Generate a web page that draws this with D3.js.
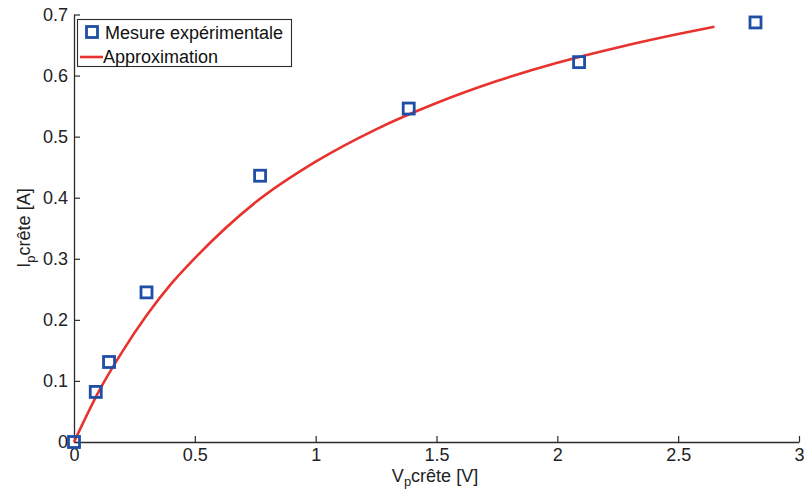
<!DOCTYPE html>
<html><head><meta charset="utf-8">
<script src="https://cdn.jsdelivr.net/npm/d3@7"></script>
<style>body{margin:0;background:#fff}svg{display:block}text{font-family:"Liberation Sans",Arial,sans-serif}</style>
</head><body>
<svg id="c" width="805" height="491"></svg>
<script>
const measV = [0, 0.09, 0.145, 0.30, 0.77, 1.385, 2.09, 2.82];
const measI = [0, 0.082, 0.131, 0.245, 0.436, 0.546, 0.622, 0.687];
const approxV = [0, 0.1, 0.2, 0.3, 0.4, 0.5, 0.75, 1.0, 1.25, 1.5, 1.75, 2.0, 2.25, 2.5, 2.65];
const approxI = [0, 0.081, 0.148, 0.207, 0.258, 0.301, 0.392, 0.459, 0.512, 0.555, 0.591, 0.621, 0.646, 0.668, 0.680];
const xTicks = [0, 0.5, 1, 1.5, 2, 2.5, 3];
const yTicks = [0, 0.1, 0.2, 0.3, 0.4, 0.5, 0.6, 0.7];
const legendLabels = ["Mesure expérimentale", "Approximation"];

const svg = d3.select("#c");
const m = {l: 74, r: 6, t: 14.5, b: 49};
const W = 805, H = 491;
const x = d3.scaleLinear().domain([0, 3]).range([m.l, W - m.r]);
const y = d3.scaleLinear().domain([0, 0.7]).range([H - m.b, m.t]);
const axisCol = "#2b2b2b", blue = "#1f4ea6", red = "#e8322e";

const xa = svg.append("g").attr("transform", `translate(0,${y(0)})`)
  .call(d3.axisBottom(x).tickValues(xTicks).tickSizeInner(-6).tickSizeOuter(0).tickPadding(9).tickFormat(d3.format("")));
const ya = svg.append("g").attr("transform", `translate(${x(0)},0)`)
  .call(d3.axisLeft(y).tickValues(yTicks).tickSizeInner(-6).tickSizeOuter(0).tickPadding(9).tickFormat(d3.format("")));
[xa, ya].forEach(a => {
  a.selectAll("path.domain").attr("stroke", axisCol).attr("stroke-width", 1.3);
  a.selectAll(".tick line").attr("stroke", axisCol).attr("stroke-width", 1.2);
  a.selectAll("text").attr("font-size", 18).attr("fill", "#222").attr("font-family", "Liberation Sans, Arial, sans-serif");
});
xa.selectAll("text").attr("dy", "0.71em").attr("y", 6);
ya.selectAll("text").attr("x", -6);

// approximation line
const pts = approxV.map((v, i) => [v, approxI[i]]);
svg.append("path").datum(pts)
  .attr("d", d3.line().x(d => x(d[0])).y(d => y(d[1])).curve(d3.curveMonotoneX))
  .attr("fill", "none").attr("stroke", red).attr("stroke-width", 2.6);

// measured points
const s = 11;
svg.selectAll("rect.meas").data(measV.map((v, i) => [v, measI[i]])).enter().append("rect")
  .attr("class", "meas")
  .attr("x", d => x(d[0]) - s / 2).attr("y", d => y(d[1]) - s / 2)
  .attr("width", s).attr("height", s)
  .attr("fill", "none").attr("stroke", blue).attr("stroke-width", 2.8);

// legend
const lg = svg.append("g");
lg.append("rect").attr("x", 77.5).attr("y", 19.5).attr("width", 214).attr("height", 47)
  .attr("fill", "#fff").attr("stroke", axisCol).attr("stroke-width", 1.1);
lg.append("rect").attr("x", 86.5).attr("y", 26.5).attr("width", s).attr("height", s)
  .attr("fill", "none").attr("stroke", blue).attr("stroke-width", 2.8);
lg.append("line").attr("x1", 80).attr("x2", 103).attr("y1", 57).attr("y2", 57)
  .attr("stroke", red).attr("stroke-width", 2.6);
lg.append("text").attr("x", 105).attr("y", 39).attr("font-size", 18).attr("fill", "#111").text(legendLabels[0]);
lg.append("text").attr("x", 103).attr("y", 63).attr("font-size", 18).attr("fill", "#111").text(legendLabels[1]);

// x label
const xl = svg.append("text").attr("x", 435).attr("y", 482).attr("text-anchor", "middle")
  .attr("font-size", 18).attr("fill", "#222");
xl.append("tspan").text("V");
xl.append("tspan").attr("font-size", 13).attr("dy", 4).text("p");
xl.append("tspan").attr("dy", -4).text("crête [V]");

// y label
const yl = svg.append("text").attr("transform", "translate(30,228) rotate(-90)").attr("text-anchor", "middle")
  .attr("font-size", 18).attr("fill", "#222");
yl.append("tspan").text("I");
yl.append("tspan").attr("font-size", 13).attr("dy", 5).text("p");
yl.append("tspan").attr("dy", -5).text("crête [A]");
</script>
</body></html>
